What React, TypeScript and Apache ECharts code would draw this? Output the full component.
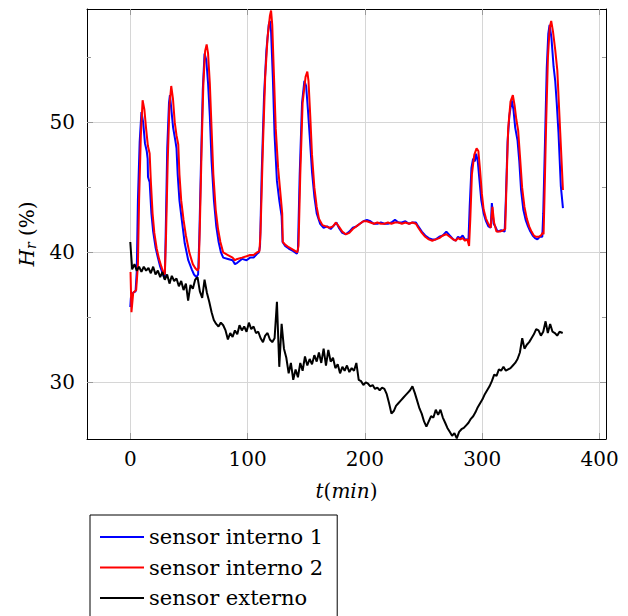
import React, { useEffect, useRef } from "react";
import * as echarts from "echarts";

const xTicks = [0, 100, 200, 300, 400];
const yTicks = [30, 40, 50];
const yMinorTicks = [35, 45, 55];
const seriesNames = ["sensor interno 1", "sensor interno 2", "sensor externo"];

const sensorInterno1: [number, number][] = [
  [0, 35.8], [0.5, 36.5], [2.5, 36.9], [4.5, 37.0], [5.5, 38.5], [6.5, 44], [8, 48.5], [9.5, 50.8],
  [11, 50.0], [12.5, 48.4], [14, 47.8], [14.8, 47.2], [15.1, 45.8], [16.5, 45.4], [18, 43.0], [19.5, 41.6],
  [21.5, 40.4], [23.5, 39.6], [25.5, 38.9], [27.5, 38.4], [29, 38.0], [29.5, 38.2], [30.5, 43], [31.5, 48],
  [33, 51.5], [33.8, 52.1], [35, 51.0], [36.5, 49.6], [38.4, 48.6], [39.4, 48.0], [40.4, 46.0], [41.9, 44.0],
  [43.9, 42.5], [46.4, 40.7], [49.4, 39.4], [52.4, 38.7], [54.3, 38.3], [56.3, 38.1], [57.8, 38.3], [58.8, 41],
  [60.3, 47], [61.8, 52.5], [63.3, 55.3], [64.8, 54.8], [66.3, 53.0], [67.8, 50.5], [69.3, 47.0], [71.3, 44.0],
  [73.3, 42.0], [75.3, 40.8], [77.3, 40.0], [79.2, 39.6], [83.2, 39.5], [87.2, 39.4], [89.2, 39.1], [91.2, 39.2],
  [95.2, 39.5], [99.1, 39.4], [102.1, 39.6], [105.1, 39.6], [108.1, 39.9], [109.6, 40.0], [110.6, 40.5], [112, 46],
  [114, 52], [116, 55.5], [118, 57.5], [119, 57.8], [120, 57.0], [121.5, 53.5], [123, 49.0], [125, 45.5],
  [127, 44.0], [129, 42.8], [129.8, 40.8], [132, 40.5], [135, 40.3], [139, 40.1], [142, 39.9], [142.9, 40.2],
  [144.4, 46], [146.4, 51.5], [148.4, 53.2], [149.9, 52.8], [151.4, 51.0], [152.9, 49.0], [154.9, 46.2], [156.9, 44.3],
  [158.9, 43.0], [161.8, 42.2], [164.8, 41.9], [167.8, 42.0], [170.8, 41.8], [173.8, 42.1], [175.7, 42.3], [177.7, 41.9],
  [180.7, 41.5], [183.7, 41.4], [186.7, 41.6], [189.7, 41.9], [192.7, 42.0], [195.7, 42.2], [198.7, 42.4], [201.7, 42.5],
  [204.7, 42.4], [207.6, 42.2], [210.6, 42.2], [213.6, 42.3], [216.6, 42.2], [219.6, 42.2], [222.6, 42.3], [225.6, 42.5],
  [228.6, 42.3], [231.5, 42.3], [234.5, 42.4], [237.5, 42.2], [240.5, 42.3], [243.5, 42.3], [245.5, 42.0], [248.5, 41.6],
  [251.4, 41.3], [254.4, 41.1], [257.4, 41.0], [260.4, 41.0], [263.4, 41.2], [266.4, 41.3], [269.4, 41.6], [272.3, 41.3],
  [275.3, 41.0], [277.3, 40.9], [279.3, 41.2], [281.3, 41.1], [283.3, 41.3], [285.3, 41.0], [288.3, 41.0], [289.3, 43.5],
  [290.8, 46.5], [292.2, 47.2], [293.7, 47.0], [294.8, 47.6], [296.2, 47.0], [297.7, 45.5], [299.2, 44.0], [301.2, 43.0],
  [303.2, 42.4], [305.2, 42.0], [307.2, 41.9], [308.2, 43.8], [309.7, 42.2], [311.1, 42.0], [313.1, 41.6], [316.1, 41.7],
  [319.1, 41.6], [320.1, 44], [321.6, 48.5], [323.1, 50.5], [325.1, 51.7], [326.6, 51.0], [328.1, 49.6], [330.1, 48.6],
  [331.6, 47], [333.1, 44.8], [335, 43.3], [337, 42.5], [339, 42.0], [341, 41.6], [343, 41.3], [345, 41.1],
  [347, 41.0], [349, 41.2], [351.2, 41.2], [352, 43], [353.5, 48.5], [355, 54.2], [356.3, 56.8], [357.4, 57.5],
  [359, 56.5], [360.8, 54.3], [362.2, 53.2], [363.5, 51.5], [365, 49.2], [367, 45.1], [368.8, 43.4],
];

const sensorInterno2: [number, number][] = [
  [0.2, 38.5], [1.0, 35.4], [2.5, 36.9], [5.0, 37.1], [6.5, 39], [7.5, 44], [9, 49], [10.5, 51.7],
  [12, 51.0], [13.5, 49.5], [15, 48.2], [16.5, 47.6], [17.5, 45.5], [19, 43.0], [20.5, 41.5], [22.5, 40.3],
  [24.5, 39.5], [26.5, 38.9], [28.5, 38.4], [29.4, 38.3], [30.4, 41], [31.9, 47], [33.4, 51.3], [34.9, 52.8],
  [36.4, 51.8], [37.9, 50.0], [39.4, 49.0], [40.9, 48.3], [41.9, 46.0], [43.4, 44.0], [45.4, 42.5], [47.4, 41.3],
  [50.3, 40.0], [53.3, 39.1], [55.3, 38.8], [57.3, 38.6], [58.3, 38.8], [59.3, 42], [60.8, 48], [62.3, 53],
  [63.8, 55.5], [65.1, 56.0], [66.3, 55.3], [67.8, 53], [69.3, 49.5], [70.8, 46], [72.8, 43.3], [74.8, 41.8],
  [76.8, 40.8], [79.2, 40.0], [83.2, 39.8], [87.2, 39.6], [89.2, 39.4], [91.2, 39.5], [95.2, 39.6], [99.1, 39.7],
  [102.1, 39.8], [105.1, 39.8], [108.1, 40.0], [110.1, 40.1], [111, 41.5], [113, 48], [115, 53.5], [117, 56.5],
  [119, 58.2], [120, 58.6], [121, 57.5], [122.5, 53.5], [124, 49.5], [126, 46.5], [128, 44.5], [129.5, 43.0],
  [130, 40.8], [132, 40.6], [135, 40.4], [139, 40.2], [142.4, 40.0], [143.4, 40.5], [144.9, 46], [146.9, 51.5],
  [149.4, 53.5], [150.9, 53.9], [151.9, 53.2], [153.4, 50.5], [154.9, 47.5], [156.9, 45.0], [158.9, 43.5], [160.8, 42.6],
  [163.8, 42.1], [166.8, 42.0], [169.8, 41.9], [172.8, 42.0], [175.2, 42.3], [177.7, 42.0], [180.7, 41.6], [183.7, 41.4],
  [186.7, 41.5], [189.7, 41.8], [192.7, 42.0], [195.7, 42.2], [198.7, 42.4], [201.7, 42.4], [204.7, 42.3], [207.6, 42.2],
  [210.6, 42.3], [213.6, 42.2], [216.6, 42.2], [219.6, 42.3], [222.6, 42.2], [225.6, 42.3], [228.6, 42.3], [231.5, 42.2],
  [234.5, 42.3], [237.5, 42.2], [240.5, 42.3], [243.5, 42.2], [245.5, 41.9], [248.5, 41.5], [251.4, 41.2], [254.4, 41.0],
  [257.4, 40.9], [260.4, 41.0], [263.4, 41.1], [266.4, 41.3], [269.4, 41.4], [272.3, 41.2], [275.3, 41.0], [277.3, 40.9],
  [279.3, 41.1], [281.3, 41.0], [283.3, 41.1], [285.3, 40.9], [287.3, 41.0], [288.8, 40.5], [289.8, 42.5], [291.2, 46.0],
  [293.2, 47.5], [295.2, 48.0], [296.7, 47.8], [298.2, 46.3], [299.7, 44.5], [301.2, 43.3], [303.2, 42.6], [305.2, 42.2],
  [307.2, 41.9], [308.7, 43.5], [310.1, 42.3], [312.1, 41.6], [315.1, 41.6], [318.1, 41.7], [319.6, 41.8], [320.6, 45],
  [322.1, 49.5], [324.1, 51.6], [326.1, 52.1], [327.6, 51.3], [329.1, 50.2], [330.6, 49.4], [332.1, 47.5], [334, 45.0],
  [336, 43.5], [338, 42.6], [340, 42.0], [342, 41.6], [344, 41.3], [346, 41.2], [348, 41.2], [350, 41.3],
  [351.5, 41.5], [352.3, 41.4], [353, 44], [354.5, 50], [356, 55], [357.5, 57.3], [358.8, 57.8], [360.3, 57.0],
  [362.2, 55.6], [364, 54.0], [366.5, 49.2], [368.8, 44.8],
];

const sensorExterno: [number, number][] = [
  [0, 40.8], [1.6, 38.7], [3.6, 39.1], [5.5, 38.6], [7.5, 38.9], [9.5, 38.5], [11.5, 38.9], [13.5, 38.6],
  [15.5, 38.8], [17.5, 38.4], [19.5, 38.9], [21.5, 38.3], [23.5, 38.6], [25.5, 38.1], [27.4, 38.5], [29.4, 37.9],
  [31.4, 38.3], [33.4, 37.6], [35.4, 38.2], [37.4, 37.8], [39.4, 38.0], [41.4, 37.4], [43.4, 37.8], [45.4, 37.1],
  [47.4, 37.6], [49.3, 36.3], [51.3, 37.5], [53.3, 37.2], [55.3, 37.9], [57.3, 38.1], [59.3, 37.0], [61.3, 36.5],
  [63.3, 37.9], [65.3, 36.9], [67.3, 36.2], [69.3, 35.4], [71.2, 34.8], [73.2, 34.5], [75.2, 34.3], [77.2, 34.6],
  [79.2, 34.4], [81.2, 34.0], [83.2, 33.3], [85.2, 33.8], [87.2, 33.5], [89.2, 34.0], [91.2, 33.7], [93.1, 34.4],
  [95.1, 34.0], [97.1, 34.3], [99.1, 33.9], [101.1, 34.6], [103.1, 34.1], [105.1, 34.3], [107.1, 33.8], [109.1, 33.9],
  [111.1, 33.4], [113.1, 33.1], [115.0, 33.6], [117.0, 33.8], [119.0, 33.3], [121.0, 33.1], [123.0, 33.4], [125.0, 36.2],
  [127.0, 31.2], [129.0, 34.5], [131.0, 32.6], [133.0, 31.9], [135.0, 30.7], [136.9, 31.5], [138.9, 30.2], [140.9, 31.0],
  [142.9, 30.4], [144.9, 31.5], [146.9, 30.9], [148.9, 32.0], [150.9, 31.3], [152.9, 31.8], [154.9, 31.4], [156.9, 32.1],
  [158.9, 31.6], [160.8, 32.3], [162.8, 31.5], [164.8, 32.6], [166.8, 31.3], [168.8, 32.5], [170.8, 31.6], [172.8, 31.9],
  [174.8, 31.1], [176.8, 31.4], [178.8, 30.7], [180.8, 31.2], [182.7, 30.9], [184.7, 31.3], [186.7, 30.8], [188.7, 31.1],
  [190.7, 30.9], [192.7, 31.5], [194.7, 30.2], [196.7, 30.1], [198.7, 29.8], [200.7, 30.0], [202.7, 29.9], [204.6, 29.7],
  [206.6, 29.8], [208.6, 29.5], [210.6, 29.6], [212.6, 29.4], [214.6, 29.6], [216.6, 29.5], [218.6, 29.1], [220.6, 28.4],
  [222.6, 27.6], [224.6, 27.8], [226.5, 28.2], [228.5, 28.4], [230.5, 28.6], [232.5, 28.8], [234.5, 29.0], [236.5, 29.2],
  [238.5, 29.4], [240.5, 29.7], [242.5, 29.2], [244.5, 28.6], [246.5, 28.0], [248.4, 27.6], [250.4, 27.0], [252.4, 26.6],
  [254.4, 27.0], [256.4, 27.4], [258.4, 27.3], [260.4, 27.9], [262.4, 27.5], [264.4, 27.9], [266.4, 27.3], [268.4, 26.9],
  [270.3, 26.5], [272.3, 26.2], [274.3, 25.9], [276.3, 26.1], [278.3, 25.7], [280.3, 26.2], [282.3, 26.4], [284.3, 26.5],
  [286.3, 26.7], [288.3, 26.9], [290.3, 27.2], [292.3, 27.4], [294.2, 27.7], [296.2, 28.1], [298.2, 28.4], [300.2, 28.7],
  [302.2, 29.1], [304.2, 29.4], [306.2, 29.7], [308.2, 30.1], [310.2, 30.6], [312.2, 30.5], [314.2, 31.0], [316.1, 30.9],
  [318.1, 31.2], [320.1, 30.9], [322.1, 31.0], [324.1, 31.1], [326.1, 31.3], [328.1, 31.5], [330.1, 31.8], [332.1, 32.3],
  [334.1, 33.4], [336.0, 32.6], [338.0, 32.9], [340.0, 33.1], [342.0, 33.4], [344.0, 33.7], [346.0, 34.1], [348.0, 34.0],
  [350.0, 33.6], [352.0, 33.9], [354.0, 34.7], [355.9, 33.8], [357.9, 34.5], [359.9, 33.9], [361.9, 33.8], [363.9, 33.6],
  [365.9, 33.9], [368.6, 33.8],
];

const FONT = "DejaVu Serif";
const X_MIN = -36.9;
const X_MAX = 405.5;
const Y_MIN = 25.65;
const Y_MAX = 58.72;

export default function App() {
  const ref = useRef<HTMLDivElement>(null);
  useEffect(() => {
    if (!ref.current) return;
    const chart = echarts.init(ref.current, undefined, { renderer: "svg" });
    const tickStyle = { color: "#9a9a9a", width: 1 };
    const frame = { show: true, onZero: false, lineStyle: { color: "#000", width: 1 } };
    const noLine = { show: false, onZero: false };
    const baseX = { type: "value", min: X_MIN, max: X_MAX, splitNumber: 4 };
    const baseY = { type: "value", min: Y_MIN, max: Y_MAX, splitNumber: 3 };
    chart.setOption({
      animation: false,
      backgroundColor: "#fff",
      grid: { left: 87, top: 9, width: 519, height: 430, containLabel: false },
      xAxis: [
        {
          ...baseX,
          position: "bottom",
          axisLine: frame,
          axisTick: { show: true, inside: true, length: 6, customValues: xTicks, lineStyle: tickStyle },
          axisLabel: { show: true, customValues: xTicks, margin: 10, fontFamily: FONT, fontSize: 20, color: "#000" },
          splitLine: { show: true, lineStyle: { color: "#d6d6d6", width: 1 } },
          name: "{i|t}{n|(}{i|min}{n|)}",
          nameLocation: "middle",
          nameGap: 42,
          nameTextStyle: {
            rich: {
              i: { fontFamily: FONT, fontStyle: "italic", fontSize: 20, color: "#000" },
              n: { fontFamily: FONT, fontSize: 20, color: "#000" },
            },
          },
        },
        {
          ...baseX,
          position: "top",
          axisLine: frame,
          axisTick: { show: true, inside: true, length: 6, customValues: xTicks, lineStyle: tickStyle },
          axisLabel: { show: false },
          splitLine: { show: false },
        },
      ],
      yAxis: [
        {
          ...baseY,
          position: "left",
          axisLine: frame,
          axisTick: { show: true, inside: true, length: 6, customValues: yTicks, lineStyle: tickStyle },
          axisLabel: { show: true, customValues: yTicks, margin: 12, fontFamily: FONT, fontSize: 20, color: "#000" },
          splitLine: { show: true, lineStyle: { color: "#d6d6d6", width: 1 } },
        },
        {
          ...baseY,
          position: "left",
          axisLine: noLine,
          axisTick: { show: true, inside: true, length: 4, customValues: yMinorTicks, lineStyle: tickStyle },
          axisLabel: { show: false },
          splitLine: { show: false },
        },
        {
          ...baseY,
          position: "right",
          axisLine: frame,
          axisTick: { show: true, inside: true, length: 6, customValues: yTicks, lineStyle: tickStyle },
          axisLabel: { show: false },
          splitLine: { show: false },
        },
        {
          ...baseY,
          position: "right",
          axisLine: noLine,
          axisTick: { show: true, inside: true, length: 4, customValues: yMinorTicks, lineStyle: tickStyle },
          axisLabel: { show: false },
          splitLine: { show: false },
        },
      ],
      legend: {
        orient: "vertical",
        left: 90,
        top: 515,
        height: 130,
        data: seriesNames,
        icon: "rect",
        itemWidth: 44,
        itemHeight: 2,
        itemGap: 8.5,
        padding: [11, 14, 12, 10],
        borderColor: "#000",
        borderWidth: 1,
        borderRadius: 0,
        backgroundColor: "#fff",
        textStyle: { fontFamily: FONT, fontSize: 21, color: "#000", lineHeight: 22 },
      },
      graphic: [
        {
          type: "text",
          x: 27,
          y: 234,
          rotation: Math.PI / 2,
          style: {
            text: "{i|H}{s|r}{n| (%)}",
            align: "center",
            verticalAlign: "middle",
            rich: {
              i: { fontFamily: FONT, fontStyle: "italic", fontSize: 20, fill: "#000" },
              s: { fontFamily: FONT, fontStyle: "italic", fontSize: 14, fill: "#000", padding: [8, 0, 0, 0] },
              n: { fontFamily: FONT, fontSize: 20, fill: "#000" },
            },
          },
        },
      ],
      series: [
        {
          name: seriesNames[0],
          type: "line",
          data: sensorInterno1,
          showSymbol: false,
          color: "#0000ff",
          lineStyle: { color: "#0000ff", width: 2 },
          xAxisIndex: 0,
          yAxisIndex: 0,
        },
        {
          name: seriesNames[1],
          type: "line",
          data: sensorInterno2,
          showSymbol: false,
          color: "#ff0000",
          lineStyle: { color: "#ff0000", width: 2 },
          xAxisIndex: 0,
          yAxisIndex: 0,
        },
        {
          name: seriesNames[2],
          type: "line",
          data: sensorExterno,
          showSymbol: false,
          color: "#000000",
          lineStyle: { color: "#000000", width: 2 },
          xAxisIndex: 0,
          yAxisIndex: 0,
        },
      ],
    });
    return () => chart.dispose();
  }, []);
  return (
    <div
      ref={ref}
      style={{ position: "absolute", left: 0, top: 0, width: 628, height: 616, background: "#fff" }}
    />
  );
}
